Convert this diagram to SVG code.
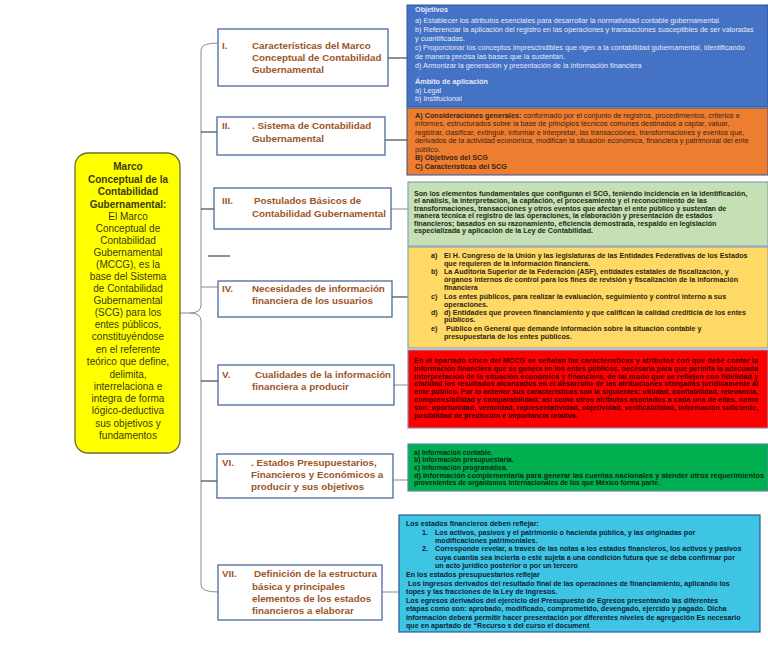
<svg xmlns="http://www.w3.org/2000/svg" width="768" height="650" viewBox="0 0 768 650">
<style>
text{font-family:"Liberation Sans",Arial,sans-serif}
.box{fill:#fff;stroke:#4a6a9c;stroke-width:1.3}
.ttl{font-size:9.8px;font-weight:bold;fill:#9c5528}
.main{font-size:10px;fill:#3a3a10;text-anchor:middle}
.b{font-weight:bold}
.sm{font-size:7.25px}
.sb{font-size:7.15px;font-weight:bold}
.ln{stroke:#222;stroke-width:1;fill:none}
.lg{stroke:#8a8a8a;stroke-width:1;fill:none}
</style>
<rect width="768" height="650" fill="#fff"/>

<g id="connectors">
<path class="lg" d="M218,43 Q201,43 201,50 L201,305 Q201,313 190,313 Q201,313 201,321 L201,585 Q201,592 218,592"/>
<path class="lg" d="M180,313 L190,313"/>
<path class="ln" d="M201,132 L217,132"/>
<path class="ln" d="M201,209 L214,209"/>
<path class="lg" d="M201,287 L218,287"/>
<path class="ln" d="M201,381 L218,381"/>
<path class="ln" d="M201,481 L217,481"/>
<path class="ln" d="M208,256 L230,256"/>
<path class="ln" d="M388,58 L407,58"/>
<path class="ln" d="M385,140 L408,140"/>
<path class="lg" d="M391,209 L408,209"/>
<path class="ln" d="M392,297 L408,297"/>
<path class="lg" d="M394,385 L408,385"/>
<path class="lg" d="M393,480 L408,480"/>
<path class="lg" d="M382,592 L399,592"/>
</g>

<g id="root">
<rect x="75" y="153" width="105" height="300" rx="13" fill="#ffff00" stroke="#6e6e30" stroke-width="1.3"/>
<text class="main"><tspan class="b" x="128" y="170">Marco</tspan><tspan class="b" x="128" y="182.5">Conceptual de la</tspan><tspan class="b" x="128" y="195">Contabilidad</tspan><tspan class="b" x="128" y="207.5">Gubernamental:</tspan><tspan x="128" y="219.5">El Marco</tspan><tspan x="128" y="231.5">Conceptual de</tspan><tspan x="128" y="243.5">Contabilidad</tspan><tspan x="128" y="255.5">Gubernamental</tspan><tspan x="128" y="267.5">(MCCG), es la</tspan><tspan x="128" y="279.5">base del Sistema</tspan><tspan x="128" y="291.5">de Contabilidad</tspan><tspan x="128" y="303.5">Gubernamental</tspan><tspan x="128" y="315.5">(SCG) para los</tspan><tspan x="128" y="327.5">entes públicos,</tspan><tspan x="128" y="340">constituyéndose</tspan><tspan x="128" y="352.5">en el referente</tspan><tspan x="128" y="365">teórico que define,</tspan><tspan x="128" y="377.5">delimita,</tspan><tspan x="128" y="389.5">interrelaciona e</tspan><tspan x="128" y="401.5">integra de forma</tspan><tspan x="128" y="414">lógico-deductiva</tspan><tspan x="128" y="426.5">sus objetivos y</tspan><tspan x="128" y="438.5">fundamentos</tspan></text>
</g>

<g id="n1">
<rect class="box" x="218" y="29" width="170" height="57"/>
<text class="ttl"><tspan x="222" y="49">I.</tspan><tspan x="252" y="49">Características del Marco</tspan><tspan x="252" y="61">Conceptual de Contabilidad</tspan><tspan x="252" y="73">Gubernamental</tspan></text>
</g>
<g id="n2">
<rect class="box" x="217" y="117" width="168" height="38"/>
<text class="ttl"><tspan x="222" y="129">II.</tspan><tspan x="252" y="129">. Sistema de Contabilidad</tspan><tspan x="252" y="141.5">Gubernamental</tspan></text>
</g>
<g id="n3">
<rect class="box" x="214" y="188" width="177" height="41"/>
<text class="ttl"><tspan x="222" y="204">III.</tspan><tspan x="254" y="204">Postulados Básicos de</tspan><tspan x="252" y="216.5">Contabilidad Gubernamental</tspan></text>
</g>
<g id="n4">
<rect class="box" x="218" y="281" width="174" height="36"/>
<text class="ttl"><tspan x="222" y="292">IV.</tspan><tspan x="252" y="292">Necesidades de información</tspan><tspan x="252" y="304">financiera de los usuarios</tspan></text>
</g>
<g id="n5">
<rect class="box" x="218" y="365" width="176" height="40"/>
<text class="ttl"><tspan x="222" y="378">V.</tspan><tspan x="255" y="378">Cualidades de la información</tspan><tspan x="252" y="390">financiera a producir</tspan></text>
</g>
<g id="n6">
<rect class="box" x="217" y="454" width="176" height="44"/>
<text class="ttl"><tspan x="222" y="466">VI.</tspan><tspan x="251" y="466">. Estados Presupuestarios,</tspan><tspan x="251" y="478">Financieros y Económicos a</tspan><tspan x="251" y="490">producir y sus objetivos</tspan></text>
</g>
<g id="n7">
<rect class="box" x="218" y="565" width="164" height="55"/>
<text class="ttl"><tspan x="222" y="577">VII.</tspan><tspan x="254" y="577">Definición de la estructura</tspan><tspan x="252" y="589.5">básica y principales</tspan><tspan x="252" y="601.5">elementos de los estados</tspan><tspan x="252" y="614">financieros a elaborar</tspan></text>
</g>

<g id="d1">
<rect x="407" y="5" width="361" height="102" fill="#4472c4" stroke="#2f5597" stroke-width="1"/>
<text class="sm" fill="#e4eaf7"><tspan class="b" x="415" y="12">Objetivos</tspan><tspan x="415" y="22.5">a) Establecer los atributos esenciales para desarrollar la normatividad contable gubernamental.</tspan><tspan x="415" y="32">b) Referenciar la aplicación del registro en las operaciones y transacciones susceptibles de ser valoradas</tspan><tspan x="415" y="41">y cuantificadas.</tspan><tspan x="415" y="50">c) Proporcionar los conceptos imprescindibles que rigen a la contabilidad gubernamental, identificando</tspan><tspan x="415" y="59">de manera precisa las bases que la sustentan.</tspan><tspan x="415" y="67.5">d) Armonizar la generación y presentación de la información financiera</tspan><tspan class="b" x="415" y="84">Ámbito de aplicación</tspan><tspan x="415" y="92.5">a) Legal</tspan><tspan x="415" y="101">b) Institucional</tspan></text>
</g>

<g id="d2">
<rect x="407" y="108" width="361" height="67" fill="#ed7d31" stroke="#2f5597" stroke-width="1"/>
<text class="sm" fill="#3a2414"><tspan class="b" x="415" y="117.5">A) Consideraciones generales:</tspan><tspan> conformado por el conjunto de registros, procedimientos, criterios e</tspan><tspan x="415" y="126">informes, estructurados sobre la base de principios técnicos comunes destinados a captar, valuar,</tspan><tspan x="415" y="134.5">registrar, clasificar, extinguir, informar e interpretar, las transacciones, transformaciones y eventos que,</tspan><tspan x="415" y="143">derivados de la actividad económica, modifican la situación económica, financiera y patrimonial del ente</tspan><tspan x="415" y="151.5">público.</tspan><tspan class="b" x="415" y="160">B) Objetivos del SCG</tspan><tspan class="b" x="415" y="168.5">C) Características del SCG</tspan></text>
</g>

<g id="d3">
<rect x="408" y="182" width="360" height="64" fill="#c5e0b4" stroke="#8aa0b8" stroke-width="1.2"/>
<text class="sb" fill="#1e2a14"><tspan x="414" y="195.5">Son los elementos fundamentales que configuran el SCG, teniendo incidencia en la identificación,</tspan><tspan x="414" y="203">el análisis, la interpretación, la captación, el procesamiento y el reconocimiento de las</tspan><tspan x="414" y="210.5">transformaciones, transacciones y otros eventos que afectan el ente público y sustentan de</tspan><tspan x="414" y="218">manera técnica el registro de las operaciones, la elaboración y presentación de estados</tspan><tspan x="414" y="225.5">financieros; basados en su razonamiento, eficiencia demostrada, respaldo en legislación</tspan><tspan x="414" y="233">especializada y aplicación de la Ley de Contabilidad.</tspan></text>
</g>

<g id="d4">
<rect x="408" y="247" width="360" height="101" fill="#ffd966" stroke="#8aa0b8" stroke-width="1.2"/>
<text class="sb" fill="#2e2410"><tspan x="431" y="258">a)</tspan><tspan x="444" y="258">El H. Congreso de la Unión y las legislaturas de las Entidades Federativas de los Estados</tspan><tspan x="444" y="266">que requieren de la información financiera.</tspan><tspan x="431" y="274">b)</tspan><tspan x="444" y="274">La Auditoría Superior de la Federación (ASF), entidades estatales de fiscalización, y</tspan><tspan x="444" y="282">órganos internos de control para los fines de revisión y fiscalización de la información</tspan><tspan x="444" y="290">financiera</tspan><tspan x="431" y="299">c)</tspan><tspan x="444" y="299">Los entes públicos, para realizar la evaluación, seguimiento y control interno a sus</tspan><tspan x="444" y="307">operaciones.</tspan><tspan x="431" y="314.5">d)</tspan><tspan x="444" y="314.5">d) Entidades que proveen financiamiento y que califican la calidad crediticia de los entes</tspan><tspan x="444" y="322">públicos.</tspan><tspan x="431" y="331">e)</tspan><tspan x="444" y="331"> Público en General que demande información sobre la situación contable y</tspan><tspan x="444" y="338.5">presupuestaria de los entes públicos.</tspan></text>
</g>

<g id="d5">
<rect x="408" y="350" width="360" height="78" fill="#ff0000" stroke="#8a8ab0" stroke-width="1.2"/>
<text class="sb" fill="#3a0000"><tspan x="414" y="363" textLength="344" lengthAdjust="spacing">En el apartado cinco del MCCG se señalan las características y atributos con que debe contar la</tspan><tspan x="414" y="370.8" textLength="344" lengthAdjust="spacing">información financiera que se genera en los entes públicos, necesaria para que permita la adecuada</tspan><tspan x="414" y="378.6" textLength="344" lengthAdjust="spacing">interpretación de la situación económica y financiera, de tal modo que se reflejen con fidelidad y</tspan><tspan x="414" y="386.4" textLength="344" lengthAdjust="spacing">claridad los resultados alcanzados en el desarrollo de las atribuciones otorgadas jurídicamente al</tspan><tspan x="414" y="394.2" textLength="344" lengthAdjust="spacing">ente público. Por lo anterior sus características son la siguientes: utilidad, confiabilidad, relevancia,</tspan><tspan x="414" y="402" textLength="344" lengthAdjust="spacing">comprensibilidad y comparabilidad; así como otros atributos asociados a cada una de ellas, como</tspan><tspan x="414" y="409.8" textLength="344" lengthAdjust="spacing">son: oportunidad, veracidad, representatividad, objetividad, verificabilidad, información suficiente,</tspan><tspan x="414" y="417.6">posibilidad de predicción e importancia relativa.</tspan></text>
</g>

<g id="d6">
<rect x="408" y="444" width="360" height="47" fill="#00b050" stroke="#5a8aa0" stroke-width="1.2"/>
<text class="sb" fill="#0e2a10" style="font-size:6.8px"><tspan x="414" y="454.5">a) Información contable.</tspan><tspan x="414" y="462.2">b) Información presupuestaria.</tspan><tspan x="414" y="469.9">c) Información programática.</tspan><tspan x="414" y="477.6" textLength="350" lengthAdjust="spacingAndGlyphs">d) Información complementaria para generar las cuentas nacionales y atender otros requerimientos</tspan><tspan x="414" y="485.3">provenientes de organismos internacionales de los que México forma parte.</tspan></text>
</g>

<g id="d7">
<rect x="399" y="515" width="361" height="117" fill="#3ec5e3" stroke="#2f5597" stroke-width="1.2"/>
<text class="sb" fill="#0e2236"><tspan x="406" y="526">Los estados financieros deben reflejar:</tspan><tspan x="422" y="534.5">1.</tspan><tspan x="435" y="534.5">Los activos, pasivos y el patrimonio o hacienda pública, y las originadas por</tspan><tspan x="435" y="543">modificaciones patrimoniales.</tspan><tspan x="422" y="551">2.</tspan><tspan x="435" y="551">Corresponde revelar, a través de las notas a los estados financieros, los activos y pasivos</tspan><tspan x="435" y="559.5">cuya cuantía sea incierta o esté sujeta a una condición futura que se deba confirmar por</tspan><tspan x="435" y="568">un acto jurídico posterior o por un tercero</tspan><tspan x="406" y="576.5">En los estados presupuestarios reflejar</tspan><tspan x="406" y="585.5"> Los ingresos derivados del resultado final de las operaciones de financiamiento, aplicando los</tspan><tspan x="406" y="594">topes y las fracciones de la Ley de Ingresos.</tspan><tspan x="406" y="603">Los egresos derivados del ejercicio del Presupuesto de Egresos presentando las diferentes</tspan><tspan x="406" y="611">etapas como son: aprobado, modificado, comprometido, devengado, ejercido y pagado. Dicha</tspan><tspan x="406" y="619.5">información deberá permitir hacer presentación por diferentes niveles de agregación Es necesario</tspan><tspan x="406" y="628">que en apartado de “Recurso s del curso el document</tspan></text>
</g>
</svg>
